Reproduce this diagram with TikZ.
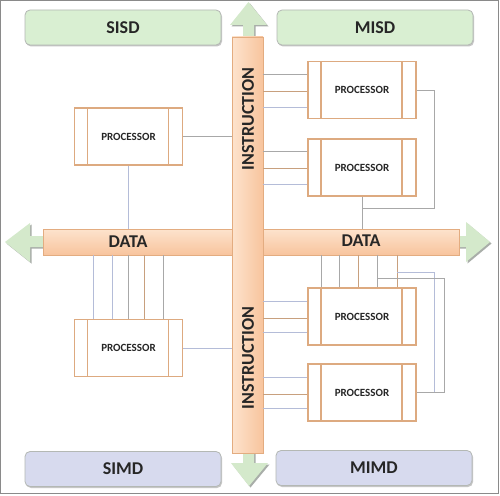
\documentclass[tikz,border=0pt]{standalone}
\usepackage{fontspec}
\setmainfont{Carlito}
\usetikzlibrary{shadows,calc}
\definecolor{framec}{HTML}{8A8A8A}
\definecolor{greenbox}{HTML}{D9EFD2}
\definecolor{bluebox}{HTML}{D7DAEE}
\definecolor{boxline}{HTML}{B4B8B4}
\definecolor{arrowc}{HTML}{D4E9CB}
\definecolor{arrowsh}{HTML}{A9AEA9}
\definecolor{barlight}{HTML}{FDE3CD}
\definecolor{bardark}{HTML}{F8C49D}
\definecolor{barline}{HTML}{E3AC80}
\definecolor{procc}{HTML}{DDAA80}
\definecolor{cg}{HTML}{A8A8A8}
\definecolor{ct}{HTML}{C8A07E}
\definecolor{cb}{HTML}{B4BCD8}
\definecolor{txt}{HTML}{262626}
\tikzset{
  title/.style={draw=boxline, line width=0.8pt, rounded corners=5pt, minimum width=196, minimum height=35, inner sep=0,
    font=\bfseries\fontsize{18}{20}\selectfont, text=txt,
    drop shadow={shadow xshift=1pt, shadow yshift=-1.5pt, fill=gray!45, opacity=1}},
  hbar/.style={draw=barline, line width=0.8pt, top color=barlight, bottom color=bardark, inner sep=0},
  vbar/.style={draw=barline, line width=0.8pt, left color=barlight, right color=bardark, inner sep=0},
  proc/.style={draw=procc, line width=1.6pt, fill=white, minimum width=108, minimum height=57, inner sep=0,
    font=\bfseries\fontsize{11}{12}\selectfont, text=txt,
    path picture={
      \draw[procc, line width=1.6pt] ([xshift=13pt]path picture bounding box.north west) -- ([xshift=13pt]path picture bounding box.south west);
      \draw[procc, line width=1.6pt] ([xshift=-14pt]path picture bounding box.north east) -- ([xshift=-14pt]path picture bounding box.south east);
    }},
  conn/.style={line width=0.8pt},
  barlabel/.style={font=\bfseries\fontsize{18}{20}\selectfont, text=txt, inner sep=0},
  arrowhead/.style={fill=arrowc},
  arrowshadow/.style={fill=arrowsh}
}
\begin{document}
\begin{tikzpicture}[x=1pt,y=-1pt]
\useasboundingbox (0,0) rectangle (500,495);
\fill[white] (0,0) rectangle (500,495);
\draw[framec, line width=1pt] (0.5,0.5) rectangle (498.5,493.5);

% title boxes
\node[title, fill=greenbox] (sisd) at (123,27.5) {SISD};
\node[title, fill=greenbox] (misd) at (375,27.5) {MISD};
\node[title, fill=bluebox] (simd) at (123,469) {SIMD};
\node[title, fill=bluebox] (mimd) at (374,468) {MIMD};

% arrowheads (with shadows)
\foreach \s/\sh in {arrowshadow/1.5, arrowhead/0}{
  \fill[\s, shift={(\sh,\sh)}] (243,40) -- (243,25) -- (230,25) -- (248.5,2) -- (267,25) -- (254,25) -- (254,40) -- cycle;
  \fill[\s, shift={(\sh,\sh)}] (243,450) -- (243,463) -- (231,463) -- (249,486) -- (268,463) -- (254,463) -- (254,450) -- cycle;
  \fill[\s, shift={(\sh,\sh)}] (46,236) -- (30,236) -- (30,223) -- (5,242) -- (30,262) -- (30,247) -- (46,247) -- cycle;
  \fill[\s, shift={(\sh,\sh)}] (456,236) -- (466,236) -- (466,222) -- (490,242) -- (466,262) -- (466,247) -- (456,247) -- cycle;
}

% bars
\node[hbar, minimum width=416, minimum height=26] (dbar) at (251,242) {};
\node[vbar, minimum width=31, minimum height=416] (ibar) at (247.5,245) {};
\node[barlabel] (dl) at (128,241.5) {DATA};
\node[barlabel] (dr) at (361,240.5) {DATA};
\node[barlabel, rotate=90] (il1) at (248,119) {INSTRUCTION};
\node[barlabel, rotate=90] (il2) at (248,358) {INSTRUCTION};

% processors
\node[proc] (s) at (128.5,136.5) {PROCESSOR};
\node[proc] (m1) at (362,90) {PROCESSOR};
\node[proc] (m2) at (362,167.5) {PROCESSOR};
\node[proc] (d) at (128.5,348) {PROCESSOR};
\node[proc] (mm1) at (362,316.5) {PROCESSOR};
\node[proc] (mm2) at (362,392.5) {PROCESSOR};

% SISD connectors
\draw[conn, cg] (s.east) -- (s.east -| ibar.west);
\draw[conn, cb] (s.south) -- (s.south |- dbar.north);

% MISD connectors
\foreach \n in {m1,m2}{
  \foreach \o/\c in {-16/cg,1/ct,17/cb}{
    \draw[conn, \c] ($(\n.west)+(0,\o)$) coordinate (t) -- (t -| ibar.east);
  }
}
\draw[conn, cg] (m1.east) -| ($(m2.south)+(72,12)$) -- ($(m2.south)+(0,12)$);
\draw[conn, cg] (m2.south) -- (m2.south |- dbar.north);

% SIMD connectors
\draw[conn, cb] (d.east) -- (d.east -| ibar.west);
\foreach \o/\c in {-35/cb,-16/cb,0/cg,16/ct,35/cg}{
  \draw[conn, \c] ($(d.north)+(\o,0)$) coordinate (t) -- (t |- dbar.south);
}

% MIMD connectors
\foreach \n in {mm1,mm2}{
  \foreach \o/\c in {-15/cb,2/ct,16/cb}{
    \draw[conn, \c] ($(\n.west)+(0,\o)$) coordinate (t) -- (t -| ibar.east);
  }
}
\foreach \o/\c in {-41/cg,-23/cg,-4/ct,15/cg,35/ct}{
  \draw[conn, \c] ($(mm1.north)+(\o,0)$) coordinate (t) -- (t |- dbar.south);
}
\draw[conn, cb] ($(mm1.north)+(35,-15)$) -| ($(mm2.east)+(18,0)$) -- (mm2.east);
\draw[conn, cg] ($(mm1.north)+(15,-9)$) -| ($(mm2.east)+(28,0)$) -- (mm2.east);
\end{tikzpicture}
\end{document}
